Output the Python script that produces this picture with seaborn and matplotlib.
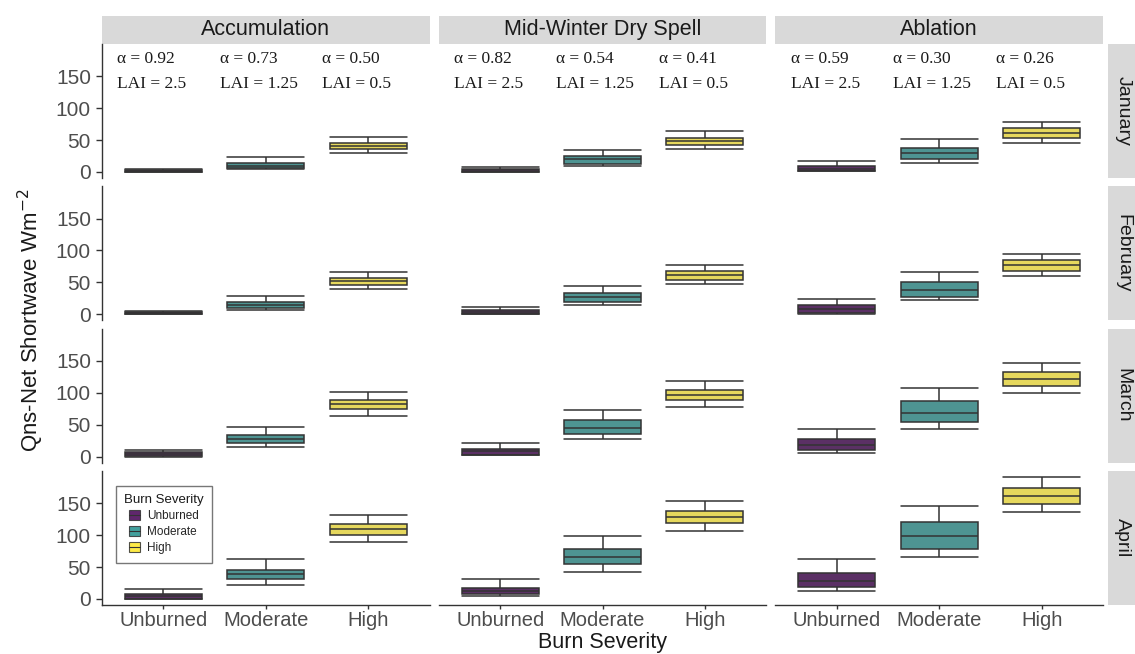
import numpy as np
import pandas as pd
import matplotlib
matplotlib.use("Agg")
import matplotlib.pyplot as plt
from matplotlib.patches import Rectangle, Patch
from matplotlib.lines import Line2D
from matplotlib.legend_handler import HandlerTuple
import seaborn as sns

periods = ["Accumulation", "Mid-Winter Dry Spell", "Ablation"]
months = ["January", "February", "March", "April"]
severities = ["Unburned", "Moderate", "High"]

# Five-number summaries (min, q1, median, q3, max) for Unburned, Moderate, High
accumulation_jan = [[0, 0.5, 1.5, 2.5, 4], [4, 6, 9.5, 14, 23], [29, 35.5, 41, 46, 55]]
accumulation_feb = [[0, 0.8, 2, 3.5, 5], [6, 9.5, 15, 20, 29], [39, 45.5, 52, 57.5, 66]]
accumulation_mar = [[0, 1, 4, 7, 11], [15, 21, 28, 33.5, 47], [64, 74, 82, 89, 102]]
accumulation_apr = [[0, 0.5, 4.5, 8.5, 15], [22, 31, 39, 46, 63], [89, 100.5, 109, 117.5, 132]]

dryspell_jan = [[0, 0.5, 2.5, 5, 8.5], [9.5, 13, 20, 25, 35], [36, 42.5, 49, 54, 64]]
dryspell_feb = [[0, 0.5, 3, 7, 11], [14, 19, 26.5, 33.5, 45], [47, 54, 62, 68, 77]]
dryspell_mar = [[2, 3, 8, 12, 22], [27.5, 36, 45, 57, 73], [78, 88, 97, 105, 118]]
dryspell_apr = [[4, 7, 12, 17.5, 31], [42, 54, 65, 79, 99], [107, 119, 128, 138, 153]]

ablation_jan = [[1, 2, 5, 9, 17.5], [14, 20, 29, 38, 52], [46, 53, 60.5, 68.5, 78]]
ablation_feb = [[1, 2, 8.5, 14, 23.5], [22, 27.5, 37.5, 51, 66], [60, 68, 77.5, 85, 95]]
ablation_mar = [[6, 10.5, 17.5, 27, 43], [43.5, 54, 68.5, 87, 107], [100, 110, 121, 133, 146]]
ablation_apr = [[12, 18.5, 28, 41, 62], [66, 79, 98, 121, 145], [137, 149, 162, 174, 191]]

summaries = {
    "Accumulation": [accumulation_jan, accumulation_feb, accumulation_mar, accumulation_apr],
    "Mid-Winter Dry Spell": [dryspell_jan, dryspell_feb, dryspell_mar, dryspell_apr],
    "Ablation": [ablation_jan, ablation_feb, ablation_mar, ablation_apr],
}

albedo_accumulation = [0.92, 0.73, 0.50]
albedo_dryspell = [0.82, 0.54, 0.41]
albedo_ablation = [0.59, 0.30, 0.26]
albedos = [albedo_accumulation, albedo_dryspell, albedo_ablation]
lai_values = [2.5, 1.25, 0.5]

palette = {"Unburned": "#440154", "Moderate": "#21908C", "High": "#FDE725"}

# Long table: each box is described by its five summary values, so the
# quartiles computed by the box plot land exactly on them.
rows = []
for period in periods:
    for month, summ in zip(months, summaries[period]):
        for sev, vals in zip(severities, summ):
            for v in vals:
                rows.append({"period": period, "month": month, "severity": sev, "value": v})
df = pd.DataFrame(rows)

sns.set_style("white")
plt.rcParams["font.family"] = ["Liberation Sans", "DejaVu Sans"]

fig, axes = plt.subplots(4, 3, figsize=(11.35, 6.54), dpi=100, sharey=True)
fig.subplots_adjust(left=0.0899, right=0.9718, top=0.9327, bottom=0.0749,
                    wspace=0.028, hspace=0.062)

ink = "#333333"
strip_bg = "#D9D9D9"

for i, month in enumerate(months):
    for j, period in enumerate(periods):
        ax = axes[i, j]
        sub = df[(df["month"] == month) & (df["period"] == period)]
        sns.boxplot(data=sub, x="severity", y="value", hue="severity",
                    order=severities, hue_order=severities, palette=palette,
                    whis=(0, 100), width=0.75, linewidth=1.1, linecolor=ink,
                    capwidths=0.75, legend=False, ax=ax)
        for p in ax.patches:
            fc = p.get_facecolor()
            p.set_facecolor((fc[0], fc[1], fc[2], 0.85))
        ax.set_xlim(-0.6, 2.6)
        ax.set_ylim(-9.55, 200.6)
        ax.set_yticks([0, 50, 100, 150])
        ax.set_xlabel("")
        ax.set_ylabel("")
        for side in ["top", "right"]:
            ax.spines[side].set_visible(False)
        ax.spines["left"].set_visible(j == 0)
        ax.spines["bottom"].set_visible(i == 3)
        for side in ["left", "bottom"]:
            ax.spines[side].set_color(ink)
            ax.spines[side].set_linewidth(1.0)
        ax.tick_params(axis="y", left=(j == 0), labelleft=(j == 0), length=4,
                       width=1.0, color=ink, labelcolor="#4D4D4D", labelsize=15, pad=4)
        ax.tick_params(axis="x", bottom=(i == 3), labelbottom=(i == 3), length=3,
                       width=1.0, color=ink, labelcolor="#4D4D4D", labelsize=14.5, pad=1.5)

        # facet strips
        if i == 0:
            ax.add_patch(Rectangle((0, 1.0), 1, 0.21, transform=ax.transAxes,
                                   facecolor=strip_bg, edgecolor="none", clip_on=False))
            ax.text(0.5, 1.105, period, transform=ax.transAxes, ha="center",
                    va="center", fontsize=15.5, color="#1A1A1A")
        if j == 2:
            ax.add_patch(Rectangle((1.015, 0), 0.091, 1, transform=ax.transAxes,
                                   facecolor=strip_bg, edgecolor="none", clip_on=False))
            ax.text(1.0605, 0.5, month, transform=ax.transAxes, ha="center",
                    va="center", rotation=-90, fontsize=14, color="#1A1A1A")

# Albedo and leaf area index labels above each severity class
for j, ax in enumerate(axes[0]):
    for k in range(3):
        ax.text(k - 0.45, 177, f"\u03b1 = {albedos[j][k]:.2f}", ha="left", va="center",
                fontsize=12.5, family="Liberation Serif", color="#1A1A1A")
        ax.text(k - 0.45, 138, f"LAI = {lai_values[k]:g}", ha="left", va="center",
                fontsize=12.5, family="Liberation Serif", color="#1A1A1A")

fig.text(0.027, 0.51, "Qns-Net Shortwave Wm$^{-2}$", rotation=90, ha="center",
         va="center", fontsize=16, color="#1A1A1A")
fig.text(0.531, 0.0015, "Burn Severity", ha="center", va="bottom", fontsize=15.5,
         color="#1A1A1A")

handles = [(Patch(facecolor=palette[s], edgecolor=ink, alpha=0.85, linewidth=0.8),
            Line2D([], [], color=ink, linewidth=0.8)) for s in severities]
leg = axes[3, 0].legend(handles, severities, title="Burn Severity",
                        handler_map={tuple: HandlerTuple(ndivide=1, pad=0)},
                        loc="upper left", bbox_to_anchor=(0.025, 0.935),
                        fontsize=8.5, title_fontsize=9.5, frameon=True, fancybox=False,
                        edgecolor="#555555", handlelength=0.9, handleheight=0.9,
                        handletextpad=0.6, borderpad=0.7, labelspacing=0.35)
leg.get_frame().set_linewidth(1.0)
leg.get_title().set_color("#1A1A1A")

fig.savefig("out.png", dpi=100)
